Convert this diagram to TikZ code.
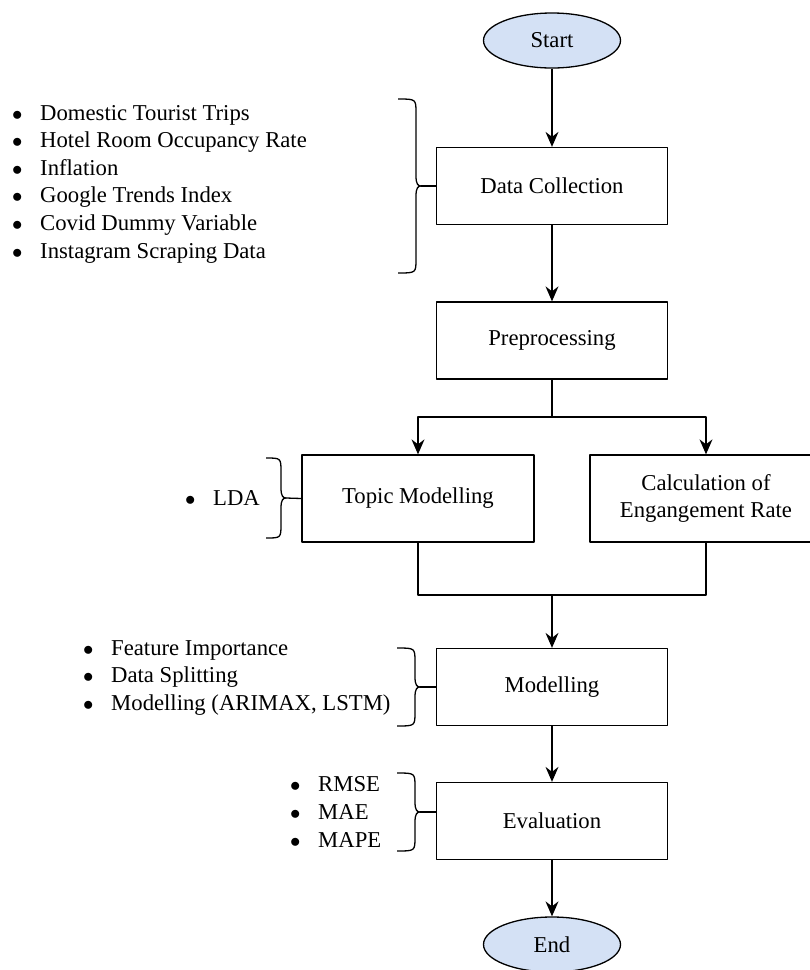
\documentclass[tikz,border=0pt]{standalone}
\usepackage{fontspec}
\setmainfont{Liberation Serif}
\usetikzlibrary{arrows.meta,shapes.geometric}
\definecolor{termblue}{HTML}{D4E1F5}
\newcommand{\bitem}{$\bullet$\hspace{17.8pt}}
% curly bracket: left x, body x, top y, bottom y, name of tip
\newcommand{\curly}[5]{%
  \draw ({#1},{#3}) .. controls ({#2},{#3}) .. ({#2},{#3+14})
    -- ({#2},{(#3+#4)/2-10}) .. controls ({#2},{(#3+#4)/2-2}) and ({#2+2},{(#3+#4)/2}) .. ({#2+5},{(#3+#4)/2})
    coordinate (#5)
    .. controls ({#2+2},{(#3+#4)/2}) and ({#2},{(#3+#4)/2+2}) .. ({#2},{(#3+#4)/2+10})
    -- ({#2},{#4-14}) .. controls ({#2},{#4}) .. ({#1},{#4});}
\begin{document}
\begin{tikzpicture}[x=1pt, y=-1pt, line width=1.3pt, line join=round,
    font=\fontsize{22.7}{27.6}\selectfont,
    >={Stealth[length=15pt,width=13pt,inset=5pt]},
    terminal/.style={ellipse, draw, fill=termblue, minimum width=137pt, minimum height=55pt, inner sep=0pt},
    process/.style={rectangle, draw, minimum width=231pt, minimum height=77pt, align=center, inner sep=2pt},
    subprocess/.style={process, minimum width=232pt, minimum height=87pt},
    itemlist/.style={anchor=west, align=left, inner sep=0pt}]
  \useasboundingbox (0,0) rectangle (810,970);
  % main column
  \node[terminal] (start) at (552,40.5) {Start};
  \node[process] (dc) at (552,186) {Data Collection};
  \node[process] (pre) at (552,340.5) {Preprocessing};
  \node[subprocess] (topic) at (418,498.5) {Topic Modelling};
  \node[subprocess] (calc) at (706,498.5) {Calculation of\\Engangement Rate};
  \node[process] (model) at (552,687) {Modelling};
  \node[process] (eval) at (552,821) {Evaluation};
  \node[terminal] (end) at (552,944.5) {End};
  \coordinate (split) at (552,417);
  \coordinate (merge) at (552,595);
  % connectors
  \draw[->] (start) -- (dc);
  \draw[->] (dc) -- (pre);
  \draw (pre) -- (split);
  \draw[->] (split) -| (topic.north);
  \draw[->] (split) -| (calc.north);
  \draw (topic.south) |- (merge);
  \draw (calc.south) |- (merge);
  \draw[->] (merge) -- (model);
  \draw[->] (model) -- (eval);
  \draw[->] (eval) -- (end);
  % side lists
  \node[itemlist] (dclist) at (11.4,184) {\bitem Domestic Tourist Trips\\\bitem Hotel Room Occupancy Rate\\\bitem Inflation\\\bitem Google Trends Index\\\bitem Covid Dummy Variable\\\bitem Instagram Scraping Data};
  \node[itemlist] (topiclist) at (184.4,498) {\bitem LDA};
  \node[itemlist] (modellist) at (82.4,678) {\bitem Feature Importance\\\bitem Data Splitting\\\bitem Modelling (ARIMAX, LSTM)};
  \node[itemlist] (evallist) at (289.4,812) {\bitem RMSE\\\bitem MAE\\\bitem MAPE};
  % brackets
  \curly{398}{416}{99}{273}{dctip}
  \draw (dctip) -- (dc.west);
  \curly{266}{281}{458}{538}{topictip}
  \draw (topictip) -- (topic.west);
  \curly{397}{415}{648}{726}{modeltip}
  \draw (modeltip) -- (model.west);
  \curly{397}{415}{773}{851}{evaltip}
  \draw (evaltip) -- (evaltip -| eval.west);
\end{tikzpicture}
\end{document}
